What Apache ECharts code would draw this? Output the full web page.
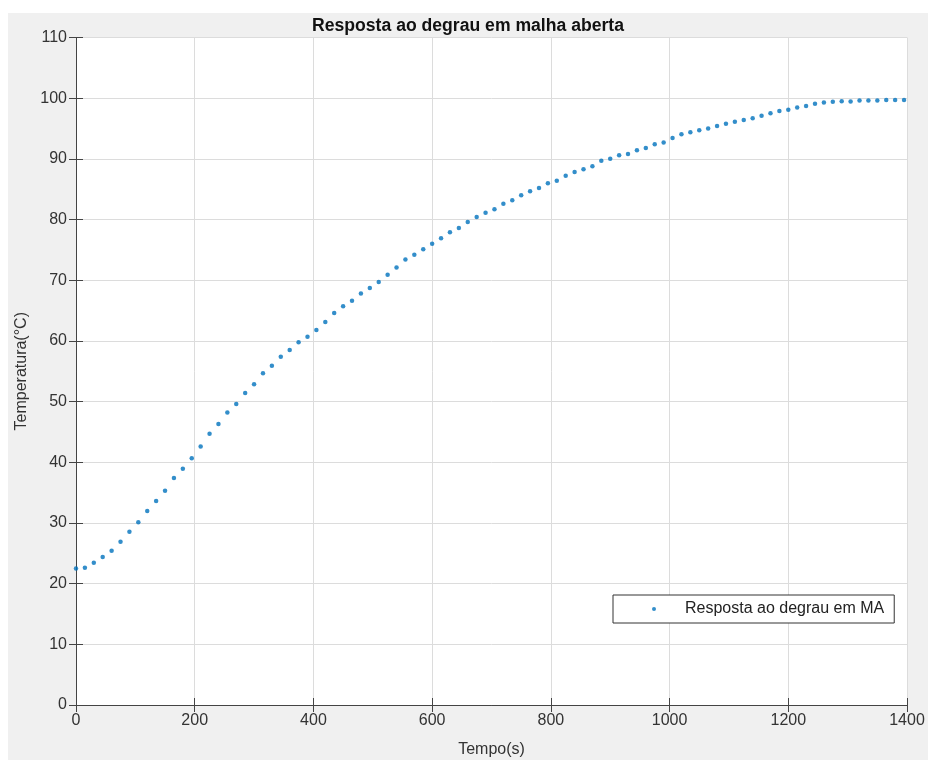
<!DOCTYPE html>
<html>
<head>
<meta charset="utf-8">
<title>Resposta ao degrau em malha aberta</title>
<script src="https://cdn.jsdelivr.net/npm/echarts@6/dist/echarts.min.js"></script>
<style>
  html, body { margin: 0; padding: 0; background: #fff; }
  #page { position: relative; width: 928px; height: 760px; background: #fff; }
  #chart { position: absolute; left: 8px; top: 13px; width: 920px; height: 747px; background: #f0f0f0; }
</style>
</head>
<body>
<div id="page"><div id="chart"></div></div>
<script>
const tempo = [
  0, 15, 30, 45, 60, 75, 90, 105, 120, 135, 150, 165, 180, 195, 210, 225, 240, 255, 270, 285,
  300, 315, 330, 345, 360, 375, 390, 405, 420, 435, 450, 465, 480, 495, 510, 525, 540, 555, 570, 585,
  600, 615, 630, 645, 660, 675, 690, 705, 720, 735, 750, 765, 780, 795, 810, 825, 840, 855, 870, 885,
  900, 915, 930, 945, 960, 975, 990, 1005, 1020, 1035, 1050, 1065, 1080, 1095, 1110, 1125, 1140, 1155, 1170, 1185,
  1200, 1215, 1230, 1245, 1260, 1275, 1290, 1305, 1320, 1335, 1350, 1365, 1380, 1395
];
const temperatura = [
  22.5, 22.6, 23.45, 24.4, 25.4, 26.9, 28.56, 30.1, 31.97, 33.6, 35.3, 37.4, 38.95, 40.65, 42.6, 44.7, 46.3, 48.2, 49.6, 51.4,
  52.85, 54.65, 55.9, 57.4, 58.5, 59.77, 60.7, 61.8, 63.1, 64.6, 65.7, 66.6, 67.8, 68.7, 69.7, 70.9, 72.1, 73.4, 74.2, 75.1,
  76.0, 76.9, 77.9, 78.6, 79.6, 80.4, 81.1, 81.7, 82.6, 83.2, 84.0, 84.65, 85.2, 86.0, 86.4, 87.2, 87.85, 88.3, 88.8, 89.7,
  90.0, 90.6, 90.8, 91.4, 91.8, 92.4, 92.7, 93.45, 94.05, 94.4, 94.7, 95.0, 95.4, 95.8, 96.1, 96.4, 96.7, 97.1, 97.5, 97.9,
  98.1, 98.45, 98.7, 99.1, 99.3, 99.4, 99.5, 99.45, 99.6, 99.6, 99.6, 99.7, 99.7, 99.7
];
const xLimits = [0, 1400];
const yLimits = [0, 110];

const font = '"Liberation Sans", Arial, Helvetica, sans-serif';
const axisColor = '#444';
const gridColor = '#dcdcdc';

const chart = echarts.init(document.getElementById('chart'));

function boxAxis(extra) {
  return Object.assign({
    type: 'value',
    axisLine: { show: true, lineStyle: { color: axisColor, width: 1 } },
    axisTick: { show: true, inside: true, length: 7, lineStyle: { color: axisColor } },
    splitLine: { show: false },
    axisLabel: { show: false }
  }, extra);
}

chart.setOption({
  animation: false,
  textStyle: { fontFamily: font },
  title: {
    text: 'Resposta ao degrau em malha aberta',
    left: 'center',
    top: 4,
    padding: 0,
    textStyle: { fontFamily: font, fontSize: 17.6, fontWeight: 'bold', color: '#111', lineHeight: 18 }
  },
  grid: {
    left: 68, top: 24.5, right: 21, bottom: 55,
    outerBoundsMode: 'none',
    show: true, backgroundColor: '#fff', borderWidth: 0
  },
  legend: {
    left: 605, top: 582,
    orient: 'vertical',
    data: ['Resposta ao degrau em MA'],
    icon: 'circle',
    itemWidth: 52, itemHeight: 4,
    padding: [5, 10, 5, 39],
    borderColor: '#333', borderWidth: 1, borderRadius: 0,
    backgroundColor: '#fff',
    textStyle: { fontFamily: font, fontSize: 16, color: '#222', lineHeight: 18 }
  },
  xAxis: [
    boxAxis({
      min: xLimits[0], max: xLimits[1], interval: 200,
      position: 'bottom',
      name: 'Tempo(s)', nameLocation: 'middle', nameGap: 37,
      nameTextStyle: { fontFamily: font, fontSize: 16, color: '#333' },
      splitLine: { show: true, lineStyle: { color: gridColor, width: 1 } },
      axisLabel: { show: true, margin: 8, fontSize: 16, color: '#333', fontFamily: font,
        formatter: (v) => String(v) }
    }),
    boxAxis({ min: xLimits[0], max: xLimits[1], interval: 200, position: 'top' })
  ],
  yAxis: [
    boxAxis({
      min: yLimits[0], max: yLimits[1], interval: 10,
      position: 'left',
      name: 'Temperatura(°C)', nameLocation: 'middle', nameGap: 36,
      nameTextStyle: { fontFamily: font, fontSize: 16, color: '#333' },
      splitLine: { show: true, lineStyle: { color: gridColor, width: 1 } },
      axisLabel: { show: true, margin: 9, fontSize: 16, color: '#333', fontFamily: font,
        formatter: (v) => String(v) }
    }),
    boxAxis({ min: yLimits[0], max: yLimits[1], interval: 10, position: 'right' })
  ],
  series: [{
    name: 'Resposta ao degrau em MA',
    type: 'scatter',
    symbol: 'circle',
    symbolSize: 4.5,
    itemStyle: { color: '#0072BD' },
    data: tempo.map((t, i) => [t, temperatura[i]])
  }]
});
</script>
</body>
</html>
